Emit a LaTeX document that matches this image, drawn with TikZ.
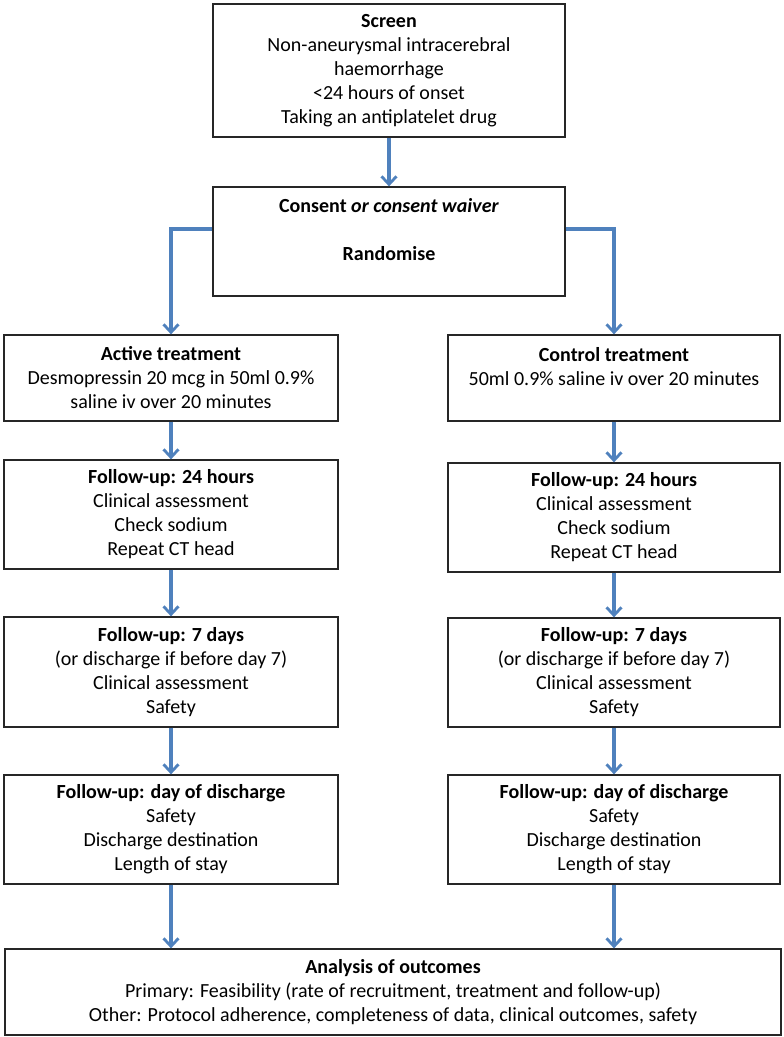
\documentclass[tikz,border=0pt]{standalone}
\usepackage{fontspec}
\setmainfont{Carlito}
\usetikzlibrary{arrows.meta}
\definecolor{arrowblue}{RGB}{79,129,189}
\begin{document}
\begin{tikzpicture}[x=1pt,y=-1pt,
  box/.style={draw=black!85,line width=1.3pt,rectangle,align=center,inner sep=0pt,
    font=\fontsize{20}{24}\selectfont},
  link/.style={draw=arrowblue,line width=3.2pt,-{Straight Barb[length=8pt,width=15pt,line width=2.8pt]}}]
\useasboundingbox (0,0) rectangle (784,1037);
\fill[white] (0,0) rectangle (784,1037);
\node[box,minimum width=352pt,minimum height=133pt] (screen) at (389,70.5)
  {\textbf{Screen}\\Non-aneurysmal intracerebral\\haemorrhage\\<24 hours of onset\\Taking an antiplatelet drug};
\node[box,minimum width=352pt,minimum height=109pt] (consent) at (389,241.5)
  {\textbf{Consent \textit{or consent waiver}}\\\mbox{}\\\textbf{Randomise}\\\mbox{}};
\node[box,minimum width=334pt,minimum height=86pt] (active) at (171,378)
  {\textbf{Active treatment}\\Desmopressin 20 mcg in 50ml 0.9\%\\saline iv over 20 minutes};
\node[box,minimum width=332pt,minimum height=86pt] (control) at (614,378)
  {\textbf{Control treatment}\\50ml 0.9\% saline iv over 20 minutes\\\mbox{}};
\node[box,minimum width=334pt,minimum height=109pt] (fuaL) at (171,514.5)
  {\textbf{Follow-up: 24 hours}\\Clinical assessment\\Check sodium\\Repeat CT head};
\node[box,minimum width=332pt,minimum height=109pt] (fuaR) at (614,517.5)
  {\textbf{Follow-up: 24 hours}\\Clinical assessment\\Check sodium\\Repeat CT head};
\node[box,minimum width=334pt,minimum height=110pt] (fubL) at (171,672)
  {\textbf{Follow-up: 7 days}\\(or discharge if before day 7)\\Clinical assessment\\Safety};
\node[box,minimum width=332pt,minimum height=109pt] (fubR) at (614,672.5)
  {\textbf{Follow-up: 7 days}\\(or discharge if before day 7)\\Clinical assessment\\Safety};
\node[box,minimum width=334pt,minimum height=109pt] (fucL) at (171,829.5)
  {\textbf{Follow-up: day of discharge}\\Safety\\Discharge destination\\Length of stay};
\node[box,minimum width=332pt,minimum height=109pt] (fucR) at (614,829.5)
  {\textbf{Follow-up: day of discharge}\\Safety\\Discharge destination\\Length of stay};
\node[box,minimum width=776pt,minimum height=86pt] (analysis) at (393,992)
  {\textbf{Analysis of outcomes}\\Primary: Feasibility (rate of recruitment, treatment and follow-up)\\Other: Protocol adherence, completeness of data, clinical outcomes, safety};
\coordinate (cl) at (consent.west |- 0,229);
\coordinate (cr) at (consent.east |- 0,229);
\draw[link] (screen.south) -- (consent.north);
\draw[link] (cl) -| (active.north);
\draw[link] (cr) -| (control.north);
\draw[link] (active.south) -- (fuaL.north);
\draw[link] (control.south) -- (fuaR.north);
\draw[link] (fuaL.south) -- (fubL.north);
\draw[link] (fuaR.south) -- (fubR.north);
\draw[link] (fubL.south) -- (fucL.north);
\draw[link] (fubR.south) -- (fucR.north);
\draw[link] (fucL.south) -- (fucL.south |- analysis.north);
\draw[link] (fucR.south) -- (fucR.south |- analysis.north);
\end{tikzpicture}
\end{document}
